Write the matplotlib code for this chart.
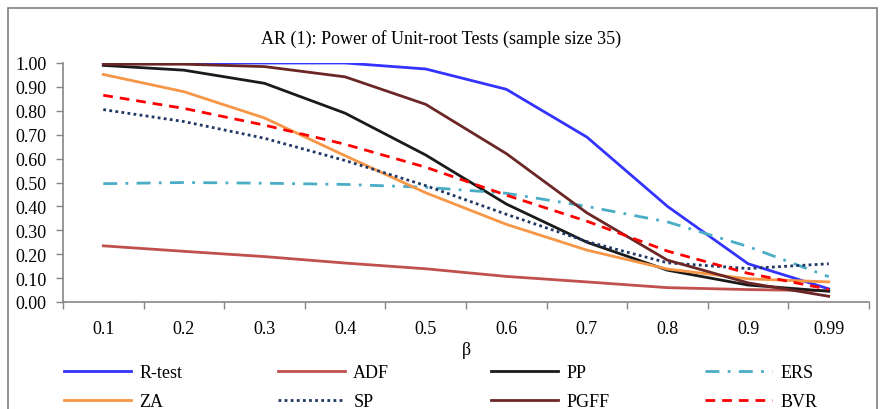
import matplotlib
matplotlib.use("Agg")
import matplotlib.pyplot as plt
from matplotlib.patches import Rectangle

plt.rcParams['font.family'] = ['Liberation Serif', 'DejaVu Serif']

# beta values (categories)
beta = ['0.1', '0.2', '0.3', '0.4', '0.5', '0.6', '0.7', '0.8', '0.9', '0.99']

# power of each test
r_test = [1.00, 1.00, 1.00, 1.00, 0.975, 0.89, 0.69, 0.40, 0.16, 0.055]
adf    = [0.235, 0.212, 0.19, 0.163, 0.139, 0.107, 0.084, 0.06, 0.052, 0.047]
pp     = [0.99, 0.97, 0.915, 0.79, 0.615, 0.41, 0.25, 0.133, 0.071, 0.045]
ers    = [0.495, 0.50, 0.497, 0.492, 0.48, 0.455, 0.40, 0.335, 0.232, 0.106]
za     = [0.952, 0.88, 0.77, 0.612, 0.457, 0.325, 0.217, 0.138, 0.097, 0.084]
sp     = [0.805, 0.755, 0.685, 0.592, 0.487, 0.367, 0.253, 0.164, 0.14, 0.16]
pgff   = [0.995, 0.995, 0.985, 0.942, 0.827, 0.621, 0.373, 0.175, 0.08, 0.024]
bvr    = [0.865, 0.81, 0.74, 0.66, 0.564, 0.447, 0.338, 0.213, 0.12, 0.053]

series = [
    ('R-test', r_test, '#3333ff', '-'),
    ('ADF', adf, '#c0504d', '-'),
    ('PP', pp, '#1a1a1a', '-'),
    ('ERS', ers, '#4bacc6', (0, (5, 3, 1, 3))),
    ('ZA', za, '#f79646', '-'),
    ('SP', sp, '#1f3864', (0, (1, 1.2))),
    ('PGFF', pgff, '#6b2626', '-'),
    ('BVR', bvr, '#ff0000', (0, (3.5, 2.5))),
]

fig = plt.figure(figsize=(8.83, 4.10), dpi=100)
ax = fig.add_axes([63/883, 1-303/410, (869-63)/883, (303-64)/410])

x = range(len(beta))
lines = []
for name, vals, col, ls in series:
    ln, = ax.plot(x, vals, color=col, linestyle=ls, lw=2.0, label=name)
    lines.append(ln)

ax.set_xlim(-0.5, len(beta) - 0.5)
ax.set_ylim(0, 1.0)
ax.set_yticks([i / 10 for i in range(11)])
ax.set_yticklabels(['%.2f' % (i / 10) for i in range(11)])
ax.set_xticks([i - 0.5 for i in range(len(beta) + 1)])
ax.set_xticklabels([])
ax.set_xticks(list(x), minor=True)
ax.set_xticklabels(beta, minor=True)
ax.tick_params(axis='x', which='minor', length=0, pad=13, labelsize=13)
ax.tick_params(axis='x', which='major', length=5, color='#868686', width=1)
ax.tick_params(axis='y', length=5, color='#868686', width=1, labelsize=13, pad=7)
for s in ['top', 'right']:
    ax.spines[s].set_visible(False)
for s in ['left', 'bottom']:
    ax.spines[s].set_color('#868686')
    ax.spines[s].set_linewidth(1.2)

ax.set_xlabel('β', fontsize=13, labelpad=3)
fig.text(441/883, 1-39/410, 'AR (1): Power of Unit-root Tests (sample size 35)',
         ha='center', va='center', fontsize=13)

# legend: four columns of two entries each
col_x = [67, 281, 494, 708]
for k in range(4):
    lg = fig.legend(handles=[lines[k], lines[k + 4]], loc='upper left',
                    bbox_to_anchor=(col_x[k]/883 - 0.003, 1-365/410),
                    frameon=False, fontsize=13, handlelength=3.7,
                    handletextpad=0.45, labelspacing=0.68, borderpad=0,
                    borderaxespad=0)

fig.patches.append(Rectangle((8/883, -0.2), (877-8)/883, 1.2 - 9/410,
                             transform=fig.transFigure, fill=False,
                             edgecolor='#7f7f7f', lw=1.2, clip_on=False))

fig.savefig('out.png', dpi=100)
